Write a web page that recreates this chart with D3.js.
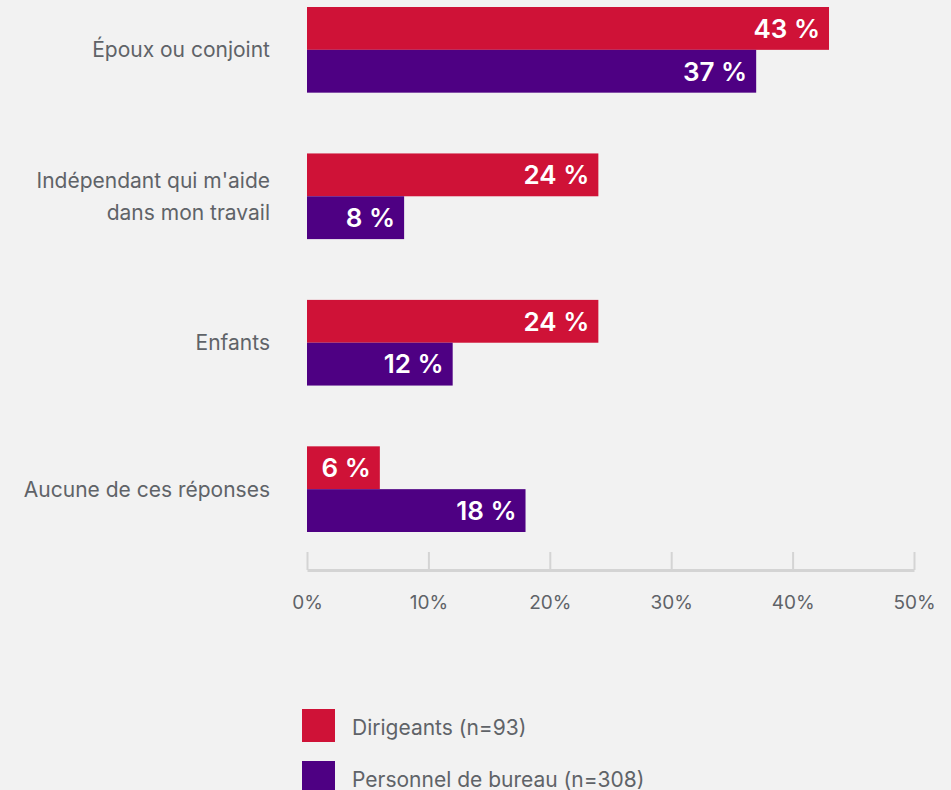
<!DOCTYPE html>
<html>
<head>
<meta charset="utf-8">
<script src="https://cdn.jsdelivr.net/npm/d3@7"></script>
<style>
  html, body { margin: 0; padding: 0; background: #f2f2f2; }
  svg { display: block; }
</style>
</head>
<body>
<svg id="chart" width="951" height="790"></svg>
<script>
// données
var categories = ["Époux ou conjoint", "Indépendant qui m'aide\ndans mon travail", "Enfants", "Aucune de ces réponses"];
var seriesNames = ["Dirigeants (n=93)", "Personnel de bureau (n=308)"];
var dirigeants = [43, 24, 24, 6];
var personnel = [37, 8, 12, 18];
var tickValues = [0, 10, 20, 30, 40, 50];
var colors = ["#cf1237", "#4e0083"];

var svg = d3.select('#chart');
var fontFamily = 'Inter, "Noto Sans", sans-serif';
var textGray = '#5f6368';

var x = d3.scaleLinear().domain([0, 50]).range([307, 914]);
var y = d3.scaleBand().domain(categories).range([7, 532]).paddingInner(0.415).paddingOuter(0);
var ySub = d3.scaleBand().domain([0, 1]).range([0, y.bandwidth()]);

var rows = categories.map(function (c, i) {
    return { cat: c, values: [dirigeants[i], personnel[i]] };
});

var g = svg.append('g').attr('font-family', fontFamily);

// barres
var group = g.selectAll('g.row')
    .data(rows)
    .enter()
    .append('g')
    .attr('class', 'row')
    .attr('transform', function (d) { return 'translate(0,' + y(d.cat) + ')'; });

var bars = group.selectAll('g.bar')
    .data(function (d) { return d.values.map(function (v, k) { return { v: v, k: k }; }); })
    .enter()
    .append('g');

bars.append('rect')
    .attr('x', x(0))
    .attr('y', function (d) { return ySub(d.k); })
    .attr('width', function (d) { return x(d.v) - x(0); })
    .attr('height', ySub.bandwidth())
    .attr('fill', function (d) { return colors[d.k]; });

bars.append('text')
    .attr('x', function (d) { return x(d.v) - 9; })
    .attr('y', function (d) { return ySub(d.k) + ySub.bandwidth() / 2; })
    .attr('dy', '0.36em')
    .attr('text-anchor', 'end')
    .attr('fill', '#fff')
    .attr('font-size', 26)
    .attr('font-weight', 600)
    .text(function (d) { return d.v + ' %'; });

// libellés des catégories
group.append('text')
    .attr('text-anchor', 'end')
    .attr('fill', textGray)
    .attr('font-size', 21)
    .each(function (d) {
        var lines = d.cat.split('\n');
        var t = d3.select(this);
        var mid = y.bandwidth() / 2;
        lines.forEach(function (l, i) {
            t.append('tspan')
                .attr('x', 270)
                .attr('y', mid + (i - (lines.length - 1) / 2) * 32)
                .attr('dy', '0.36em')
                .text(l);
        });
    });

// axe
var axisY = 570;
var axis = d3.axisBottom(x)
    .tickValues(tickValues)
    .tickSize(-18)
    .tickSizeOuter(0)
    .tickFormat(function (d) { return d + '%'; });

var ax = g.append('g')
    .attr('transform', 'translate(0,' + axisY + ')')
    .call(axis);
ax.select('.domain').attr('stroke', '#d4d4d4').attr('stroke-width', 3);
ax.selectAll('.tick line').attr('stroke', '#d4d4d4').attr('stroke-width', 2);
ax.selectAll('.tick text')
    .attr('y', 32)
    .attr('dy', '0.36em')
    .attr('fill', textGray)
    .attr('font-size', 19)
    .attr('font-family', fontFamily);

// légende
var legend = g.selectAll('g.legend')
    .data(seriesNames)
    .enter()
    .append('g')
    .attr('class', 'legend')
    .attr('transform', function (d, i) { return 'translate(302,' + (709 + i * 52) + ')'; });

legend.append('rect')
    .attr('width', 33)
    .attr('height', 33)
    .attr('fill', function (d, i) { return colors[i]; });

legend.append('text')
    .attr('x', 50)
    .attr('y', 18)
    .attr('dy', '0.36em')
    .attr('fill', textGray)
    .attr('font-size', 21)
    .text(function (d) { return d; });
</script>
</body>
</html>
